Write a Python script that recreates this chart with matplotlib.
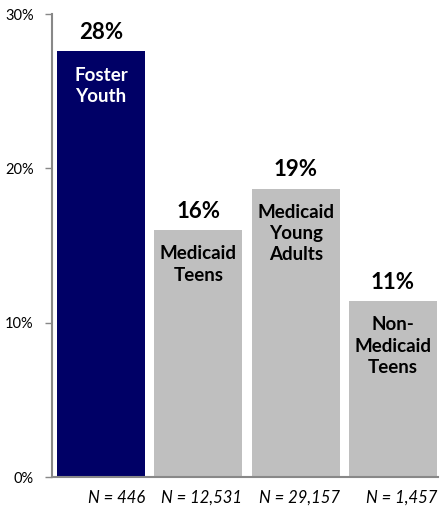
import matplotlib.pyplot as plt

# data
groups = ["Foster\nYouth", "Medicaid\nTeens", "Medicaid\nYoung\nAdults", "Non-\nMedicaid\nTeens"]
values = [27.6, 16.0, 18.7, 11.4]
value_labels = ["28%", "16%", "19%", "11%"]
n_labels = ["N = 446", "N = 12,531", "N = 29,157", "N = 1,457"]
colors = ["#000066", "#BFBFBF", "#BFBFBF", "#BFBFBF"]
text_colors = ["white", "black", "black", "black"]
yticks = [0, 10, 20, 30]

plt.rcParams["font.family"] = ["Lato", "DejaVu Sans"]

fig = plt.figure(figsize=(4.4, 5.08), dpi=100)
ax = fig.add_axes([0.118, 0.061, 0.877, 0.911])

x = list(range(len(values)))
width = 0.905
ax.bar(x, values, width=width, color=colors)

ax.set_xlim(-0.504, 3.46)
ax.set_ylim(0, 30)
ax.set_yticks(yticks)
ax.set_yticklabels([f"{t}%" for t in yticks], fontsize=10.5)
ax.set_xticks([])
ax.tick_params(axis="y", length=5, width=1, color="#888888", pad=8)

for s in ["top", "right"]:
    ax.spines[s].set_visible(False)
for s in ["left", "bottom"]:
    ax.spines[s].set_color("#888888")
    ax.spines[s].set_linewidth(1.5)

for i, v in enumerate(values):
    ax.annotate(value_labels[i], (x[i], v), xytext=(0, 6), textcoords="offset points",
                ha="center", va="bottom", fontsize=16, fontweight="bold")
    ax.annotate(groups[i], (x[i], v), xytext=(0, -11), textcoords="offset points",
                ha="center", va="top", fontsize=13.5, fontweight="bold",
                color=text_colors[i], linespacing=1.3)
    ax.annotate(n_labels[i], (x[i] + width / 2, 0), xytext=(0, -9), textcoords="offset points",
                ha="right", va="top", fontsize=12, fontstyle="italic", annotation_clip=False)

fig.savefig("out.png", dpi=100)
